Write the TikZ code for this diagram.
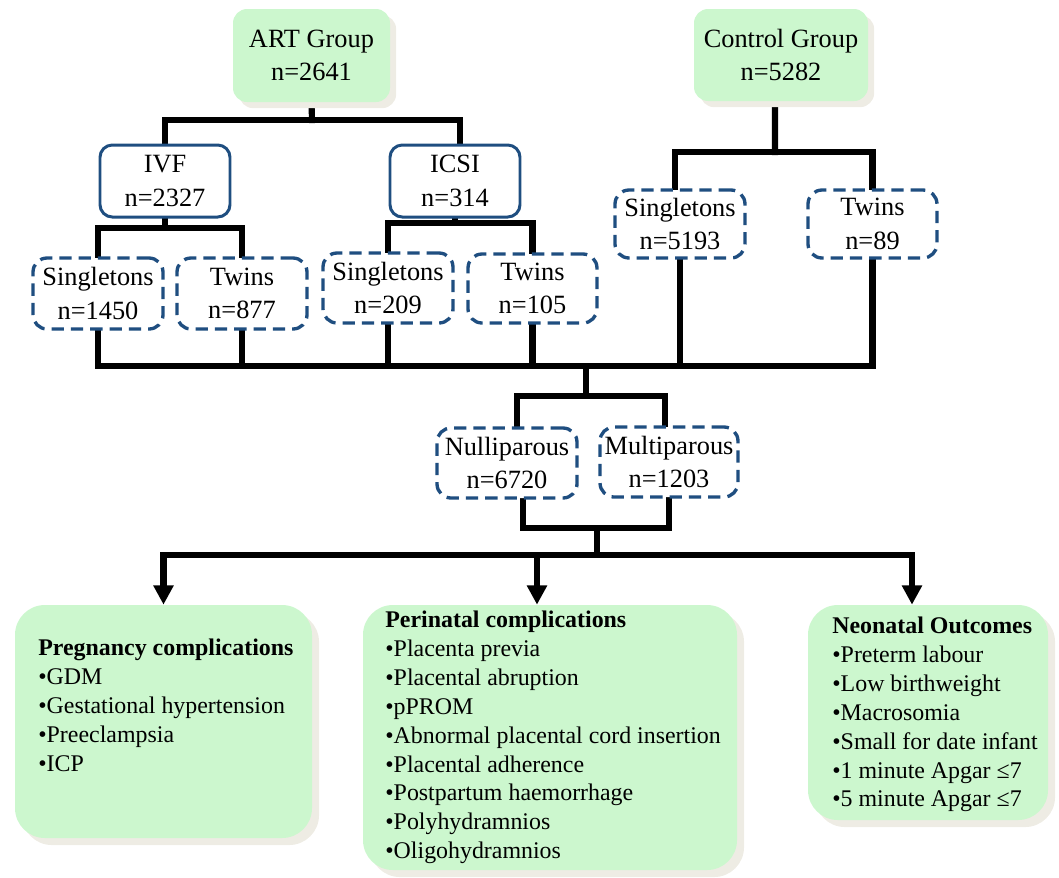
\documentclass[tikz,border=0pt]{standalone}
\usepackage{fontspec}
\setmainfont{Liberation Serif}
\usetikzlibrary{arrows.meta,shadows}
\definecolor{boxgreen}{RGB}{204,247,206}
\definecolor{boxblue}{RGB}{31,78,128}
\definecolor{shadowc}{RGB}{238,236,228}
\pgfdeclarelayer{bg}
\pgfsetlayers{bg,main}
\begin{document}
\begin{tikzpicture}[x=0.02cm,y=-0.02cm,
  every node/.style={font=\fontsize{15}{19}\selectfont, align=center, inner sep=0pt},
  sz/.style 2 args={minimum width=#1*0.02cm, minimum height=#2*0.02cm},
  topbox/.style={fill=boxgreen, rounded corners=8pt, drop shadow={shadow xshift=3.5pt, shadow yshift=-3.5pt, fill=shadowc, opacity=1}},
  bigbox/.style={fill=boxgreen, rounded corners=17pt, drop shadow={shadow xshift=4pt, shadow yshift=-4pt, fill=shadowc, opacity=1}},
  solidbox/.style={draw=boxblue, fill=white, line width=1.7pt, rounded corners=7pt},
  dashbox/.style={draw=boxblue, fill=white, line width=1.9pt, rounded corners=8pt, dash pattern=on 7pt off 4pt},
  conn/.style={line width=3.5pt, line join=miter, line cap=rect},
  arr/.style={line width=3.5pt, -{Triangle[length=11pt,width=11pt]}},
  list/.style={font=\fontsize{13.6}{16.4}\selectfont, align=left, anchor=north west}
]
\useasboundingbox (0,0) rectangle (1059,877);

% top groups
\node[topbox, sz={157}{93}] (art) at (311.5,55.5) {ART Group\\n=2641};
\node[topbox, sz={174}{92}] (ctrl) at (781,55) {Control Group\\n=5282};

% ART subgroups
\node[solidbox, sz={130}{72}] (ivf) at (165,181) {IVF\\n=2327};
\node[solidbox, sz={130}{72}] (icsi) at (455,181) {ICSI\\n=314};

% singleton / twin boxes
\node[dashbox, sz={130}{71}] (s1) at (98,293.5) {Singletons\\n=1450};
\node[dashbox, sz={130}{71}] (t1) at (242,293.5) {Twins\\n=877};
\node[dashbox, sz={130}{70}] (s2) at (388,288) {Singletons\\n=209};
\node[dashbox, sz={129}{69}] (t2) at (532.5,288.5) {Twins\\n=105};
\node[dashbox, sz={130}{68}] (s3) at (680,224) {Singletons\\n=5193};
\node[dashbox, sz={129}{68}] (t3) at (872.5,224) {Twins\\n=89};

% parity
\node[dashbox, sz={140}{70}] (nul) at (507,463) {Nulliparous\\n=6720};
\node[dashbox, sz={138}{70}] (mul) at (669,462) {Multiparous\\n=1203};

% outcome boxes
\node[bigbox, sz={297}{233}] (preg) at (163.5,721.5) {};
\node[bigbox, sz={374}{265}] (peri) at (550,737.5) {};
\node[bigbox, sz={240}{215}] (neo) at (928,712.5) {};

\node[list] (pregtext) at (38,639) {\textbf{Pregnancy complications}\\•GDM\\•Gestational hypertension\\•Preeclampsia\\•ICP};
\node[list] (peritext) at (385,611) {\textbf{Perinatal complications}\\•Placenta previa\\•Placental abruption\\•pPROM\\•Abnormal placental cord insertion\\•Placental adherence\\•Postpartum haemorrhage\\•Polyhydramnios\\•Oligohydramnios};
\node[list] (neotext) at (832,617) {\textbf{Neonatal Outcomes}\\•Preterm labour\\•Low birthweight\\•Macrosomia\\•Small for date infant\\•1 minute Apgar ≤7\\•5 minute Apgar ≤7};

\coordinate (artj) at (312,120);
\coordinate (ivfj) at (165,228);
\coordinate (icsij) at (455,223);
\coordinate (ctrlj) at (775,152);
\coordinate (mj) at (586,366);
\coordinate (pj) at (586,396);
\coordinate (bj) at (597,528);
\coordinate (aj) at (597,555);

\begin{pgfonlayer}{bg}
\draw[conn] (art.south) -- (artj);
\draw[conn] (ivf.north) -- (ivf.north |- artj) -- ([xshift=0.1cm]icsi.north |- artj) -- ([xshift=0.1cm]icsi.north);
\draw[conn] (ivf.south) -- (ivfj);
\draw[conn] (s1.north) -- (s1.north |- ivfj) -- (t1.north |- ivfj) -- (t1.north);
\draw[conn] (icsi.south) -- (icsij);
\draw[conn] (s2.north) -- (s2.north |- icsij) -- (t2.north |- icsij) -- (t2.north);
\draw[conn] ([xshift=-0.12cm]ctrl.south) -- (ctrlj);
\draw[conn] ([xshift=-0.1cm]s3.north) -- ([xshift=-0.1cm]s3.north |- ctrlj) -- (t3.north |- ctrlj) -- (t3.north);
\draw[conn] (s1.south) -- (s1.south |- mj) -- (t3.south |- mj) -- (t3.south);
\foreach \n in {t1,s2,t2,s3} \draw[conn] (\n.south) -- (\n.south |- mj);
\draw[conn] (mj) -- (pj);
\draw[conn] ([xshift=0.2cm]nul.north) -- ([xshift=0.2cm]nul.north |- pj) -- ([xshift=-0.08cm]mul.north |- pj) -- ([xshift=-0.08cm]mul.north);
\draw[conn] ([xshift=0.32cm]nul.south) -- ([xshift=0.32cm]nul.south |- bj) -- (mul.south |- bj) -- (mul.south);
\draw[conn] (bj) -- (aj);
\draw[conn] (preg.north |- aj) -- ([xshift=-0.32cm]neo.north |- aj);
\draw[arr] (preg.north |- aj) -- (preg.north);
\draw[arr] ([xshift=-0.26cm]peri.north |- aj) -- ([xshift=-0.26cm]peri.north);
\draw[arr] ([xshift=-0.32cm]neo.north |- aj) -- ([xshift=-0.32cm]neo.north);
\end{pgfonlayer}
\end{tikzpicture}
\end{document}
